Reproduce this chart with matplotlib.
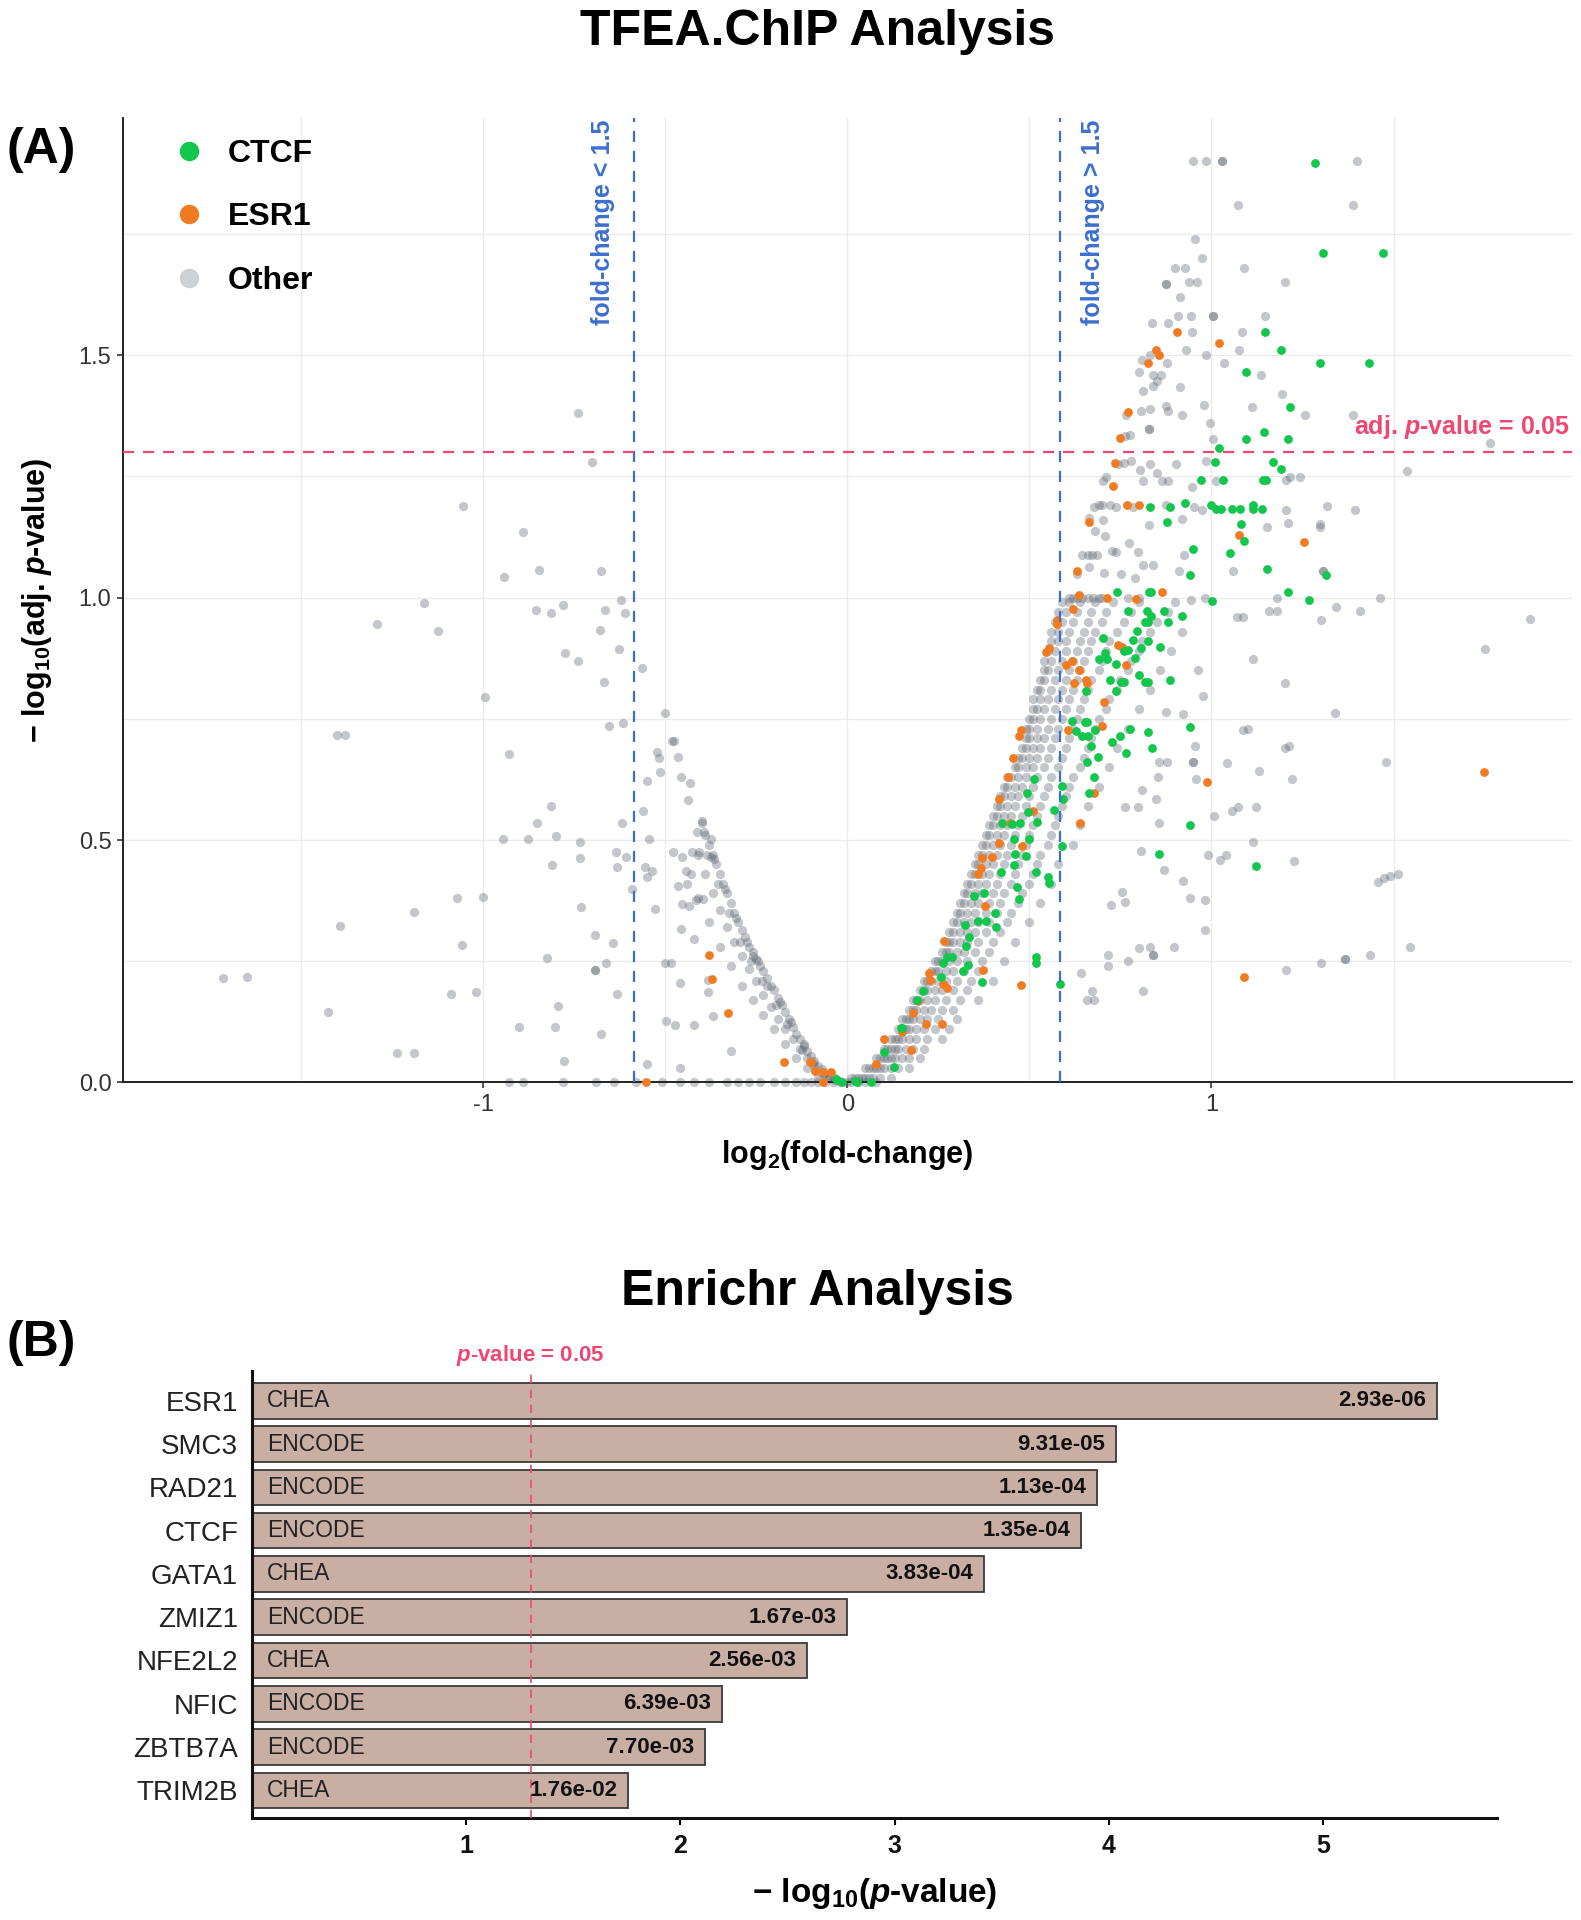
import numpy as np
import matplotlib
matplotlib.use("Agg")
import matplotlib.pyplot as plt
from matplotlib.lines import Line2D
from matplotlib.ticker import MultipleLocator
import matplotlib.transforms as mtransforms

plt.rcParams['font.family'] = ['Liberation Sans', 'DejaVu Sans']
plt.rcParams['mathtext.fontset'] = 'custom'
plt.rcParams['mathtext.rm'] = 'Liberation Sans:bold'
plt.rcParams['mathtext.it'] = 'Liberation Sans:italic:bold'
plt.rcParams['mathtext.bf'] = 'Liberation Sans:bold'
plt.rcParams['axes.unicode_minus'] = False

# ---------------- Panel A data (log2 FC, -log10 adj p) ----------------
ctcf_pts = [
    (1.283, 1.896), (1.307, 1.71), (1.47, 1.71), (1.148, 1.547), (1.19, 1.51), (1.298, 1.483), (1.432, 1.483),
    (1.094, 1.466), (1.216, 1.392), (1.143, 1.342), (1.094, 1.328), (1.211, 1.328), (1.022, 1.309), (1.009, 1.28),
    (1.17, 1.28), (1.191, 1.265), (0.972, 1.243), (1.031, 1.243), (1.142, 1.243), (1.151, 1.243), (0.928, 1.195),
    (0.832, 1.187), (0.887, 1.187), (1.0, 1.19), (1.012, 1.182), (1.026, 1.182), (1.056, 1.182), (1.078, 1.182),
    (1.115, 1.19), (1.115, 1.182), (1.139, 1.182), (0.879, 1.155), (1.08, 1.151), (1.089, 1.117), (0.95, 1.10),
    (1.051, 1.091), (1.152, 1.059), (0.942, 1.046), (1.315, 1.047), (0.742, 1.011), (0.829, 1.011), (0.835, 1.011),
    (1.211, 1.011), (1.268, 0.994), (1.002, 0.992),
    (0.772, 0.972), (0.822, 0.972), (0.835, 0.962), (0.827, 0.949), (0.818, 0.949), (0.871, 0.972), (0.92, 0.961),
    (0.882, 0.949), (0.795, 0.932), (0.701, 0.916), (0.785, 0.913), (0.827, 0.91), (0.859, 0.899), (0.707, 0.885),
    (0.69, 0.874), (0.713, 0.874), (0.772, 0.891), (0.76, 0.889), (0.806, 0.897), (0.789, 0.875), (0.737, 0.864),
    (0.802, 0.84), (0.818, 0.826), (0.827, 0.826), (0.722, 0.831), (0.751, 0.826), (0.76, 0.826), (0.887, 0.831),
    (0.655, 0.808), (0.738, 0.808),
    (0.616, 0.746), (0.653, 0.744), (0.659, 0.744), (0.627, 0.725), (0.645, 0.715), (0.66, 0.714), (0.68, 0.726),
    (0.668, 0.694), (0.75, 0.715), (0.776, 0.73), (0.726, 0.702), (0.766, 0.68), (0.826, 0.722), (0.837, 0.689),
    (0.942, 0.734), (0.689, 0.672), (0.659, 0.66), (0.677, 0.631), (0.664, 0.597), (0.589, 0.611), (0.568, 0.562),
    (0.592, 0.585), (0.59, 0.488), (0.94, 0.531), (0.857, 0.471), (1.122, 0.446),
    (0.513, 0.625), (0.493, 0.597), (0.495, 0.558), (0.522, 0.538), (0.453, 0.534), (0.424, 0.535), (0.474, 0.535),
    (0.499, 0.502), (0.457, 0.502), (0.46, 0.471), (0.457, 0.449), (0.49, 0.467), (0.423, 0.435), (0.466, 0.404),
    (0.472, 0.378), (0.551, 0.424), (0.554, 0.412), (0.517, 0.435), (0.406, 0.349), (0.382, 0.334), (0.358, 0.333),
    (0.409, 0.321), (0.376, 0.39), (0.347, 0.384), (0.323, 0.325), (0.335, 0.301), (0.325, 0.282), (0.317, 0.23),
    (0.263, 0.246), (0.257, 0.218), (0.275, 0.258), (0.287, 0.258), (0.37, 0.207), (0.331, 0.242), (0.209, 0.189),
    (0.191, 0.171), (0.15, 0.112), (0.517, 0.259), (0.519, 0.246), (0.585, 0.204),
    (0.10, 0.062), (0.128, 0.031), (-0.03, 0.007), (-0.015, 0.0), (0.02, 0.004), (0.027, 0.0), (0.066, 0.0),
    (0.148, 0.113),
]

esr1_pts = [
    (0.905, 1.547), (1.02, 1.525), (0.849, 1.51), (0.857, 1.50), (0.827, 1.483), (0.771, 1.382), (0.748, 1.329),
    (0.734, 1.277), (0.729, 1.23), (0.767, 1.19), (0.80, 1.19), (0.665, 1.155), (1.076, 1.129), (1.255, 1.115),
    (0.63, 1.054), (0.635, 1.005), (0.712, 1.0), (0.792, 0.998), (0.864, 1.011), (0.62, 0.977), (0.575, 0.953),
    (0.577, 0.945), (0.744, 0.902), (0.754, 0.899), (0.553, 0.897), (0.546, 0.887), (0.617, 0.87), (0.601, 0.86),
    (0.765, 0.86), (0.635, 0.851), (0.655, 0.831), (0.623, 0.823), (0.657, 0.824), (0.704, 0.784), (0.70, 0.735),
    (0.606, 0.726), (0.678, 0.597), (0.639, 0.535), (0.988, 0.62), (1.748, 0.64), (1.089, 0.217), (0.478, 0.727),
    (0.472, 0.715), (0.456, 0.67), (0.442, 0.629), (0.418, 0.584), (0.511, 0.559), (0.446, 0.535), (0.48, 0.488),
    (0.416, 0.494), (0.37, 0.462), (0.397, 0.465), (0.358, 0.429), (0.368, 0.443), (0.379, 0.364), (0.374, 0.233),
    (0.478, 0.201), (0.267, 0.291), (0.225, 0.226), (0.227, 0.211), (0.263, 0.204), (0.275, 0.195), (0.26, 0.121),
    (0.215, 0.121), (0.195, 0.169), (0.18, 0.144), (0.15, 0.104), (0.176, 0.066), (0.10, 0.089), (0.08, 0.039),
    (-0.067, 0.0), (-0.088, 0.024), (-0.067, 0.022), (-0.044, 0.022), (-0.099, 0.043), (-0.175, 0.043),
    (-0.381, 0.263), (-0.372, 0.214), (-0.328, 0.143), (-0.553, 0.0), (-0.102, 0.043),
]

# scattered "Other" points, upper right
other_upper = [
    (0.95, 1.9), (0.985, 1.9), (1.03, 1.9), (1.03, 1.9), (1.40, 1.9), (1.073, 1.81), (1.39, 1.81), (0.954, 1.74),
    (0.974, 1.70), (0.90, 1.68), (0.928, 1.68), (1.09, 1.68), (0.876, 1.646), (0.876, 1.646), (0.937, 1.65),
    (0.961, 1.65), (1.202, 1.65), (0.915, 1.62), (0.838, 1.567), (0.882, 1.567), (0.907, 1.58), (0.943, 1.58),
    (1.003, 1.58), (1.003, 1.58), (1.146, 1.58), (0.947, 1.547), (1.083, 1.547), (0.93, 1.51), (0.985, 1.50),
    (1.077, 1.51), (0.808, 1.49), (0.877, 1.484), (0.83, 1.50), (1.034, 1.483), (0.802, 1.466), (0.839, 1.459),
    (0.862, 1.459), (1.135, 1.458), (0.812, 1.427), (0.839, 1.437), (0.85, 1.447), (0.915, 1.434), (1.193, 1.42),
    (0.766, 1.377), (0.806, 1.384), (0.832, 1.389), (0.876, 1.396), (0.88, 1.384), (0.918, 1.377), (0.98, 1.397),
    (1.111, 1.394), (1.258, 1.377), (1.39, 1.377), (0.828, 1.348), (0.828, 1.348), (0.996, 1.36), (0.763, 1.334),
    (0.775, 1.336), (1.004, 1.328), (0.744, 1.275), (0.76, 1.277), (0.779, 1.281), (0.804, 1.263), (0.832, 1.275),
    (0.902, 1.275), (0.985, 1.281), (1.215, 1.249), (1.205, 1.243), (0.711, 1.249), (0.703, 1.24), (0.851, 1.257),
    (0.813, 1.241), (0.865, 1.241), (0.88, 1.241), (1.012, 1.241), (0.946, 1.227), (0.678, 1.186), (0.692, 1.19),
    (0.70, 1.19), (0.722, 1.19), (0.737, 1.186), (0.784, 1.186), (0.876, 1.19), (0.951, 1.186), (0.974, 1.18),
    (1.205, 1.18), (1.318, 1.188), (1.394, 1.18), (0.665, 1.164), (0.703, 1.16), (0.829, 1.149), (0.92, 1.163),
    (1.152, 1.146), (1.211, 1.153), (1.298, 1.145), (0.679, 1.138), (0.709, 1.127), (0.774, 1.112), (0.797, 1.093),
    (0.738, 1.095), (0.926, 1.087), (0.645, 1.087), (0.66, 1.087), (0.672, 1.087), (0.687, 1.087), (0.727, 1.096),
    (0.813, 1.067), (0.84, 1.067), (0.91, 1.054), (1.06, 1.054), (1.307, 1.054), (0.663, 1.063), (0.631, 1.049),
    (0.789, 1.04), (0.753, 1.048), (0.704, 1.05), (0.61, 1.0), (0.62, 1.0), (0.63, 1.0), (0.645, 1.0), (0.66, 1.0),
    (0.675, 1.0), (0.69, 1.0), (0.70, 1.0), (0.77, 1.0), (0.80, 1.0), (0.943, 0.994), (0.981, 1.0), (1.181, 1.0),
    (1.462, 1.0), (1.764, 1.318), (1.537, 1.262), (1.242, 1.249), (1.297, 1.152), (1.306, 1.054),
]

# scattered "Other" points, lower right
other_right = [
    (1.876, 0.956), (1.75, 0.894), (1.113, 0.873), (1.203, 0.824), (0.964, 0.851), (0.976, 0.796), (1.34, 0.761),
    (1.30, 0.953), (1.408, 0.972), (1.157, 0.972), (1.181, 0.972), (1.07, 0.96), (1.088, 0.96), (1.342, 0.98),
    (0.875, 0.765), (0.922, 0.759), (1.086, 0.726), (1.101, 0.73), (1.203, 0.689), (1.213, 0.694), (0.955, 0.694),
    (1.479, 0.661), (1.13, 0.643), (1.042, 0.658), (0.948, 0.661), (0.948, 0.661), (0.877, 0.661), (0.856, 0.661),
    (0.958, 0.625), (1.222, 0.625), (0.853, 0.629), (0.808, 0.603), (0.847, 0.585), (0.797, 0.569), (0.764, 0.569),
    (1.074, 0.569), (1.122, 0.569), (1.056, 0.559), (1.008, 0.55), (0.856, 0.535), (1.113, 0.495), (0.99, 0.469),
    (1.024, 0.459), (1.041, 0.469), (1.227, 0.457), (0.806, 0.477), (0.869, 0.438), (1.456, 0.413), (1.473, 0.421),
    (1.491, 0.426), (1.513, 0.429), (0.921, 0.415), (0.94, 0.38), (0.981, 0.376), (0.754, 0.392), (0.764, 0.372),
    (0.725, 0.366), (0.981, 0.315), (0.897, 0.28), (0.832, 0.28), (0.802, 0.278), (0.839, 0.263), (0.839, 0.263),
    (1.544, 0.28), (0.716, 0.262), (0.771, 0.25), (1.434, 0.262), (1.366, 0.255), (1.366, 0.255), (1.30, 0.246),
    (1.205, 0.233), (0.812, 0.188), (0.672, 0.188), (0.657, 0.17), (0.678, 0.171), (0.641, 0.226), (0.716, 0.24),
]

# scattered "Other" points, left side
other_left = [
    (-1.055, 1.189), (-0.891, 1.135), (-0.846, 1.056), (-0.942, 1.043), (-0.677, 1.055), (-1.161, 0.988),
    (-0.855, 0.974), (-0.814, 0.968), (-0.78, 0.984), (-0.666, 0.974), (-0.622, 0.995), (-0.609, 0.968),
    (-1.29, 0.946), (-1.124, 0.932), (-0.68, 0.934), (-0.776, 0.885), (-0.739, 0.869), (-0.628, 0.893),
    (-0.564, 0.855), (-0.669, 0.825), (-0.995, 0.795), (-0.501, 0.763), (-0.616, 0.742), (-0.654, 0.735),
    (-1.402, 0.716), (-1.378, 0.716), (-0.523, 0.682), (-0.517, 0.67), (-0.482, 0.705), (-0.476, 0.705),
    (-0.466, 0.671), (-0.928, 0.678), (-0.551, 0.622), (-0.513, 0.64), (-0.457, 0.631), (-0.433, 0.618),
    (-0.436, 0.583), (-0.561, 0.56), (-0.813, 0.57), (-0.852, 0.535), (-0.619, 0.536), (-0.394, 0.516),
    (-0.375, 0.502), (-0.413, 0.516), (-0.425, 0.475), (-0.406, 0.475), (-0.946, 0.502), (-0.876, 0.502),
    (-0.80, 0.509), (-0.734, 0.495), (-0.545, 0.502), (-0.635, 0.476), (-0.608, 0.465), (-0.734, 0.463),
    (-0.373, 0.465), (-0.632, 0.445), (-0.811, 0.449), (-0.556, 0.445), (-0.535, 0.436), (-0.551, 0.424),
    (-0.479, 0.476), (-0.454, 0.465), (-0.443, 0.436), (-0.465, 0.405), (-0.441, 0.41), (-0.454, 0.369),
    (-0.435, 0.364), (-0.414, 0.376), (-0.395, 0.378), (-0.529, 0.357), (-0.592, 0.398), (-1.071, 0.38),
    (-1.0, 0.382), (-0.732, 0.362), (-1.189, 0.352), (-1.394, 0.323), (-1.058, 0.284), (-0.693, 0.304),
    (-0.643, 0.288), (-0.457, 0.316), (-0.422, 0.295), (-0.458, 0.205), (-0.383, 0.212), (-0.383, 0.186),
    (-0.501, 0.247), (-0.485, 0.247), (-0.663, 0.247), (-0.694, 0.232), (-0.694, 0.232), (-0.824, 0.256),
    (-1.715, 0.216), (-1.647, 0.218), (-1.088, 0.183), (-1.02, 0.186), (-0.632, 0.182), (-1.425, 0.145),
    (-0.794, 0.158), (-0.498, 0.127), (-0.472, 0.118), (-0.422, 0.118), (-0.37, 0.138), (-0.901, 0.115),
    (-0.803, 0.115), (-0.677, 0.1), (-1.236, 0.061), (-1.191, 0.061), (-0.778, 0.045), (-0.551, 0.038),
    (-0.458, 0.03), (-0.318, 0.065), (-0.74, 1.38), (-0.70, 1.28),
]

# left arm of the volcano (dense band)
other_left_band = [
    (-0.02, 0.004), (-0.03, 0.008), (-0.04, 0.012), (-0.05, 0.015), (-0.06, 0.02), (-0.07, 0.028), (-0.08, 0.035),
    (-0.09, 0.045), (-0.1, 0.055), (-0.11, 0.065), (-0.12, 0.075), (-0.13, 0.09), (-0.14, 0.10), (-0.15, 0.115),
    (-0.16, 0.13), (-0.17, 0.145), (-0.18, 0.16), (-0.19, 0.175), (-0.2, 0.19), (-0.21, 0.2), (-0.22, 0.215),
    (-0.23, 0.23), (-0.24, 0.24), (-0.25, 0.255), (-0.26, 0.27), (-0.27, 0.28), (-0.28, 0.30), (-0.29, 0.315),
    (-0.30, 0.33), (-0.31, 0.35), (-0.32, 0.37), (-0.33, 0.39), (-0.34, 0.41), (-0.35, 0.43), (-0.36, 0.45),
    (-0.37, 0.47), (-0.38, 0.49), (-0.39, 0.51), (-0.40, 0.535), (-0.40, 0.54),
    (-0.05, 0.01), (-0.07, 0.02), (-0.09, 0.035), (-0.11, 0.05), (-0.13, 0.07), (-0.15, 0.09), (-0.17, 0.11),
    (-0.19, 0.13), (-0.21, 0.155), (-0.23, 0.18), (-0.25, 0.21), (-0.27, 0.235), (-0.29, 0.26), (-0.31, 0.29),
    (-0.33, 0.32), (-0.35, 0.355), (-0.37, 0.39), (-0.39, 0.43), (-0.41, 0.47),
    (-0.08, 0.01), (-0.11, 0.03), (-0.14, 0.05), (-0.17, 0.08), (-0.2, 0.11), (-0.23, 0.14), (-0.26, 0.17),
    (-0.29, 0.2), (-0.32, 0.24), (-0.35, 0.28), (-0.38, 0.33), (-0.41, 0.38), (-0.43, 0.43),
    (-0.155, 0.125), (-0.185, 0.165), (-0.245, 0.25), (-0.275, 0.29), (-0.305, 0.34), (-0.335, 0.40),
    (-0.365, 0.46), (-0.22, 0.2), (-0.26, 0.26), (-0.12, 0.08),
    (-0.035, 0.005), (-0.065, 0.018), (-0.095, 0.04), (-0.125, 0.068), (-0.165, 0.12), (-0.195, 0.16),
    (-0.235, 0.21), (-0.265, 0.25), (-0.295, 0.29), (-0.325, 0.35), (-0.355, 0.41), (-0.385, 0.47),
]

# right arm of the volcano (dense band), rows of (y, [x values])
right_band_rows = [
    (0.0, [-0.93, -0.89, -0.78, -0.69, -0.64, -0.58, -0.51, -0.46, -0.42, -0.38, -0.33, -0.30, -0.27, -0.24,
           -0.20, -0.17, -0.14, -0.12, -0.10, -0.08, -0.06, -0.04, -0.02, 0.0, 0.01, 0.03, 0.05, 0.08]),
    (0.01, [0.01, 0.02, 0.03, 0.04, 0.05, 0.06, 0.07, 0.09, 0.12]),
    (0.03, [0.05, 0.06, 0.07, 0.08, 0.09, 0.10, 0.12, 0.14, 0.17]),
    (0.05, [0.08, 0.09, 0.10, 0.11, 0.12, 0.13, 0.15, 0.17, 0.20]),
    (0.07, [0.10, 0.11, 0.12, 0.13, 0.14, 0.16, 0.18, 0.21]),
    (0.09, [0.12, 0.13, 0.14, 0.15, 0.17, 0.19, 0.22, 0.26]),
    (0.11, [0.14, 0.15, 0.16, 0.17, 0.19, 0.21, 0.24, 0.28]),
    (0.13, [0.15, 0.16, 0.17, 0.18, 0.20, 0.22, 0.25, 0.30]),
    (0.15, [0.17, 0.18, 0.19, 0.21, 0.23, 0.26, 0.29]),
    (0.17, [0.18, 0.19, 0.20, 0.22, 0.24, 0.27, 0.31, 0.36]),
    (0.19, [0.20, 0.21, 0.22, 0.24, 0.26, 0.29, 0.33]),
    (0.21, [0.21, 0.22, 0.23, 0.25, 0.27, 0.30, 0.34, 0.40]),
    (0.23, [0.23, 0.24, 0.25, 0.27, 0.29, 0.32, 0.36]),
    (0.25, [0.24, 0.25, 0.26, 0.28, 0.30, 0.33, 0.37, 0.43]),
    (0.27, [0.26, 0.27, 0.28, 0.30, 0.32, 0.35, 0.39]),
    (0.29, [0.27, 0.28, 0.29, 0.31, 0.33, 0.36, 0.40, 0.46]),
    (0.31, [0.28, 0.29, 0.31, 0.33, 0.35, 0.38, 0.42]),
    (0.33, [0.29, 0.30, 0.32, 0.34, 0.36, 0.39, 0.44, 0.50]),
    (0.35, [0.30, 0.31, 0.33, 0.35, 0.38, 0.41, 0.45]),
    (0.37, [0.31, 0.32, 0.34, 0.36, 0.39, 0.42, 0.47, 0.53]),
    (0.39, [0.32, 0.33, 0.35, 0.37, 0.40, 0.43, 0.48]),
    (0.41, [0.33, 0.34, 0.36, 0.38, 0.41, 0.45, 0.50, 0.56]),
    (0.43, [0.34, 0.35, 0.37, 0.39, 0.42, 0.46, 0.51]),
    (0.45, [0.35, 0.36, 0.38, 0.40, 0.43, 0.47, 0.52, 0.58]),
    (0.47, [0.36, 0.37, 0.39, 0.41, 0.44, 0.48, 0.53]),
    (0.49, [0.37, 0.38, 0.40, 0.42, 0.45, 0.49, 0.55, 0.62]),
    (0.51, [0.38, 0.39, 0.41, 0.43, 0.46, 0.50, 0.56]),
    (0.53, [0.39, 0.40, 0.42, 0.44, 0.47, 0.51, 0.57, 0.64]),
    (0.55, [0.40, 0.41, 0.43, 0.45, 0.48, 0.52, 0.58]),
    (0.57, [0.41, 0.42, 0.44, 0.46, 0.49, 0.53, 0.59, 0.66]),
    (0.59, [0.42, 0.43, 0.45, 0.47, 0.50, 0.54, 0.60]),
    (0.61, [0.43, 0.44, 0.46, 0.48, 0.51, 0.55, 0.61, 0.69]),
    (0.63, [0.44, 0.45, 0.47, 0.49, 0.52, 0.56, 0.62]),
    (0.65, [0.46, 0.47, 0.49, 0.51, 0.54, 0.58, 0.64, 0.72]),
    (0.67, [0.47, 0.48, 0.50, 0.52, 0.55, 0.59, 0.65]),
    (0.69, [0.48, 0.49, 0.51, 0.53, 0.56, 0.60, 0.66, 0.74]),
    (0.71, [0.49, 0.50, 0.52, 0.54, 0.57, 0.61, 0.67]),
    (0.73, [0.49, 0.50, 0.52, 0.55, 0.58, 0.62, 0.68, 0.77]),
    (0.75, [0.50, 0.51, 0.53, 0.56, 0.59, 0.63, 0.69]),
    (0.77, [0.51, 0.52, 0.54, 0.57, 0.60, 0.64, 0.71, 0.80]),
    (0.79, [0.51, 0.53, 0.55, 0.58, 0.61, 0.65, 0.72]),
    (0.81, [0.52, 0.53, 0.56, 0.59, 0.62, 0.66, 0.74, 0.83]),
    (0.83, [0.53, 0.54, 0.57, 0.60, 0.63, 0.67, 0.75]),
    (0.85, [0.54, 0.55, 0.58, 0.61, 0.64, 0.69, 0.77, 0.86]),
    (0.87, [0.54, 0.56, 0.59, 0.62, 0.65, 0.70, 0.78]),
    (0.89, [0.55, 0.57, 0.60, 0.63, 0.66, 0.71, 0.80, 0.89]),
    (0.91, [0.56, 0.58, 0.60, 0.64, 0.67, 0.72, 0.81]),
    (0.93, [0.56, 0.58, 0.61, 0.65, 0.68, 0.74, 0.83, 0.92]),
    (0.95, [0.57, 0.59, 0.62, 0.66, 0.70, 0.76, 0.85]),
    (0.97, [0.58, 0.60, 0.63, 0.67, 0.71, 0.78, 0.88]),
    (0.99, [0.59, 0.61, 0.64, 0.68, 0.73, 0.80, 0.90]),
]

fc_threshold = 1.5
adj_p_threshold = 0.05

# ---------------- Panel B data ----------------
genes = ['ESR1', 'SMC3', 'RAD21', 'CTCF', 'GATA1', 'ZMIZ1', 'NFE2L2', 'NFIC', 'ZBTB7A', 'TRIM2B']
libraries = ['CHEA', 'ENCODE', 'ENCODE', 'ENCODE', 'CHEA', 'ENCODE', 'CHEA', 'ENCODE', 'ENCODE', 'CHEA']
pvalues = [2.93e-06, 9.31e-05, 1.13e-04, 1.35e-04, 3.83e-04, 1.67e-03, 2.56e-03, 6.39e-03, 7.70e-03, 1.76e-02]
p_threshold = 0.05

# ---------------- styling ----------------
GREEN = '#12C64E'
ORANGE = '#F07B22'
GRAY_PT = '#59636E'
GRAY_LEG = '#CDD1D6'
BLUE = '#3C6FD0'
PINK = '#EF4672'
BAR = '#C9AFA3'

fig = plt.figure(figsize=(15.81, 19.2), dpi=100)

# ================= Panel A =================
axA = fig.add_axes([0.0775, 0.4362, 0.9168, 0.5026])

ox = [p[0] for p in other_upper + other_right + other_left + other_left_band]
oy = [p[1] for p in other_upper + other_right + other_left + other_left_band]
for yv, xs in right_band_rows:
    ox.extend(xs)
    oy.extend([yv] * len(xs))

axA.scatter(ox, oy, s=44, c=GRAY_PT, alpha=0.36, linewidths=0, zorder=2, clip_on=False)
axA.scatter([p[0] for p in esr1_pts], [p[1] for p in esr1_pts], s=40, c=ORANGE, linewidths=0, zorder=3, clip_on=False)
axA.scatter([p[0] for p in ctcf_pts], [p[1] for p in ctcf_pts], s=40, c=GREEN, linewidths=0, zorder=4, clip_on=False)

lfc = np.log2(fc_threshold)
yp = -np.log10(adj_p_threshold)
axA.axvline(-lfc, color=BLUE, ls=(0, (5, 4)), lw=1.6, zorder=5)
axA.axvline(lfc, color=BLUE, ls=(0, (5, 4)), lw=1.6, zorder=5)
axA.axhline(yp, color=PINK, ls=(0, (5, 4)), lw=1.6, zorder=5)

axA.set_xlim(-1.99, 1.99)
axA.set_ylim(0, 1.99)
axA.xaxis.set_major_locator(MultipleLocator(1))
axA.xaxis.set_minor_locator(MultipleLocator(0.5))
axA.yaxis.set_major_locator(MultipleLocator(0.5))
axA.yaxis.set_minor_locator(MultipleLocator(0.25))
axA.set_xticks([-1, 0, 1], ['-1', '0', '1'])
axA.set_yticks([0, 0.5, 1.0, 1.5], ['0.0', '0.5', '1.0', '1.5'])
axA.grid(True, which='both', color='#EBEBEB', lw=1.0, zorder=0)
axA.set_axisbelow(True)
axA.tick_params(axis='both', which='major', labelsize=17, labelcolor='#333333', length=4, width=1.2, pad=4,
                color='#333333')
axA.tick_params(axis='both', which='minor', length=0)
for s in ['top', 'right']:
    axA.spines[s].set_visible(False)
for s in ['left', 'bottom']:
    axA.spines[s].set_linewidth(1.4)
    axA.spines[s].set_color('#222222')

axA.set_xlabel(r'log$_{2}$(fold-change)', fontsize=22, fontweight='bold')
axA.xaxis.set_label_coords(0.5, -0.058)
axA.set_ylabel(r'$-$ log$_{10}$(adj. $\mathit{p}$-value)', fontsize=22, fontweight='bold')
axA.yaxis.set_label_coords(-0.047, 0.5)

axA.text(-0.672, 1.985, 'fold-change < 1.5', rotation=90, ha='center', va='top', color=BLUE,
         fontsize=18, fontweight='bold', zorder=6)
axA.text(0.676, 1.985, 'fold-change > 1.5', rotation=90, ha='center', va='top', color=BLUE,
         fontsize=18, fontweight='bold', zorder=6)
axA.text(1.985, yp + 0.022, r'adj. $\mathit{p}$-value = 0.05', ha='right', va='bottom', color=PINK,
         fontsize=18, fontweight='bold', zorder=6)

handles = [Line2D([0], [0], marker='o', ls='', color=GREEN, markersize=13),
           Line2D([0], [0], marker='o', ls='', color=ORANGE, markersize=13),
           Line2D([0], [0], marker='o', ls='', color=GRAY_LEG, markersize=13)]
axA.legend(handles, ['CTCF', 'ESR1', 'Other'], loc='upper left', bbox_to_anchor=(0.035, 0.978),
           frameon=False, prop={'weight': 'bold', 'size': 23}, labelspacing=1.05, handletextpad=0.7,
           handlelength=1.0, borderaxespad=0, borderpad=0)

# ================= Panel B =================
axB = fig.add_axes([0.1594, 0.0529, 0.7872, 0.2328])
scores = [-np.log10(p) for p in pvalues]
pos = np.arange(len(genes))[::-1]
axB.barh(pos, scores, height=0.82, color=BAR, edgecolor='#3A3A3A', linewidth=1.3, zorder=2)
for yy, sc, lib, pv in zip(pos, scores, libraries, pvalues):
    axB.text(0.07, yy, lib, ha='left', va='center', fontsize=16.5, color='#222222', zorder=4)
    axB.text(sc - 0.05, yy, f'{pv:.2e}', ha='right', va='center', fontsize=16, fontweight='bold',
             color='#111111', zorder=4)
pthr = -np.log10(p_threshold)
axB.axvline(pthr, color=PINK, ls=(0, (5, 4)), lw=1.2, zorder=3)
trans = mtransforms.blended_transform_factory(axB.transData, axB.transAxes)
axB.text(pthr, 1.008, r'$\mathit{p}$-value = 0.05', transform=trans, ha='center', va='bottom',
         color=PINK, fontsize=16, fontweight='bold')

axB.set_xlim(0, 5.81)
axB.set_ylim(-0.65, 9.68)
axB.set_yticks(pos, genes)
axB.set_xticks([1, 2, 3, 4, 5], ['1', '2', '3', '4', '5'])
axB.tick_params(axis='y', length=0, pad=10, labelsize=20, labelcolor='#222222')
axB.tick_params(axis='x', length=5, width=1.5, pad=6, labelsize=18, labelcolor='#111111')
for lbl in axB.get_xticklabels():
    lbl.set_fontweight('bold')
for s in ['top', 'right']:
    axB.spines[s].set_visible(False)
for s in ['left', 'bottom']:
    axB.spines[s].set_linewidth(2.2)
    axB.spines[s].set_color('#111111')
axB.set_xlabel(r'$-$ log$_{10}$($\mathit{p}$-value)', fontsize=24, fontweight='bold')
axB.xaxis.set_label_coords(0.5, -0.128)

# ================= titles =================
fig.text(0.517, 0.9835, 'TFEA.ChIP Analysis', ha='center', va='center', fontsize=36, fontweight='bold')
fig.text(0.517, 0.327, 'Enrichr Analysis', ha='center', va='center', fontsize=36, fontweight='bold')
fig.text(0.004, 0.922, '(A)', ha='left', va='center', fontsize=36, fontweight='bold')
fig.text(0.004, 0.3005, '(B)', ha='left', va='center', fontsize=36, fontweight='bold')

fig.savefig('out.png', dpi=100)
